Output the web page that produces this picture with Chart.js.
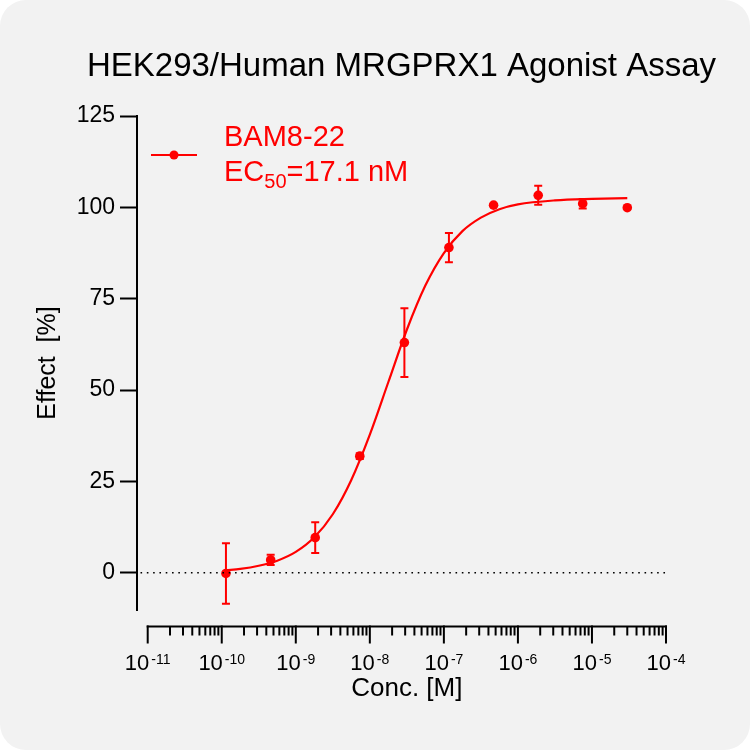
<!DOCTYPE html>
<html lang="en">

<head>
  <meta charset="UTF-8" />
  <title>HEK293/Human MRGPRX1 Agonist Assay</title>
  <script src="https://cdn.jsdelivr.net/npm/chart.js@4"></script>
  <style>
    body { margin: 0; background: #fff; }
    .card { width: 750px; height: 750px; background: #f2f2f2; border-radius: 26px; overflow: hidden; }
    canvas { display: block; }
  </style>
</head>

<body>
  <div class="card">
    <canvas id="doseChart" width="750" height="750"></canvas>
  </div>

  <script>
    // measured points (mean +/- SD)
    const conc = [1.14e-10, 4.58e-10, 1.83e-9, 7.32e-9, 2.93e-8, 1.17e-7, 4.69e-7, 1.88e-6, 7.5e-6, 3.0e-5];
    const effect = [-0.2, 3.5, 9.6, 31.9, 63.0, 89.0, 100.6, 103.3, 101.0, 99.9];
    const effectSd = [8.3, 1.4, 4.2, 0.8, 9.4, 4.0, 0, 2.6, 1.3, 0];

    // fitted curve
    const fitConc = [1.14e-10, 1.78e-10, 3.16e-10, 5.62e-10, 1e-9, 1.78e-9, 3.16e-9, 5.62e-9, 1e-8, 1.78e-8,
      3.16e-8, 5.62e-8, 1e-7, 1.78e-7, 3.16e-7, 5.62e-7, 1e-6, 3.16e-6, 1e-5, 3.0e-5];
    const fitEffect = [0.7, 1.05, 1.9, 3.3, 5.7, 9.7, 16.0, 25.4, 37.8, 52.2,
      66.5, 78.6, 87.5, 93.5, 97.2, 99.5, 100.8, 101.9, 102.3, 102.5];

    const zeroLineX = [8e-12, 1e-4];
    const yTicks = [0, 25, 50, 75, 100, 125];
    const xDecades = [-11, -10, -9, -8, -7, -6, -5, -4];

    const RED = '#ff0000';
    const FONT = "'Liberation Sans', Arial, sans-serif";

    const extras = {
      id: 'extras',
      afterDatasetsDraw(chart) {
        const { ctx, chartArea } = chart;
        const x = chart.scales.x;
        const y = chart.scales.y;
        ctx.save();

        // error bars
        ctx.strokeStyle = RED;
        ctx.lineWidth = 2;
        conc.forEach((c, i) => {
          if (!effectSd[i]) return;
          const px = x.getPixelForValue(c);
          const top = y.getPixelForValue(effect[i] + effectSd[i]);
          const bot = y.getPixelForValue(effect[i] - effectSd[i]);
          ctx.beginPath();
          ctx.moveTo(px, top); ctx.lineTo(px, bot);
          ctx.moveTo(px - 4, top); ctx.lineTo(px + 4, top);
          ctx.moveTo(px - 4, bot); ctx.lineTo(px + 4, bot);
          ctx.stroke();
        });

        // detached x axis with log ticks
        const axisY = chartArea.bottom + 16.5;
        const first = x.getPixelForValue(10 ** xDecades[0]);
        const last = x.getPixelForValue(10 ** xDecades[xDecades.length - 1]);
        ctx.strokeStyle = '#000';
        ctx.fillStyle = '#000';
        ctx.beginPath();
        ctx.moveTo(first - 1, axisY);
        ctx.lineTo(last + 1, axisY);
        ctx.stroke();

        xDecades.forEach((d, i) => {
          const px = x.getPixelForValue(10 ** d);
          ctx.beginPath();
          ctx.moveTo(px, axisY - 1);
          ctx.lineTo(px, axisY + 17);
          ctx.stroke();
          if (i < xDecades.length - 1) {
            for (let m = 2; m <= 9; m++) {
              const mx = x.getPixelForValue(m * 10 ** d);
              ctx.beginPath();
              ctx.moveTo(mx, axisY);
              ctx.lineTo(mx, axisY + 9);
              ctx.stroke();
            }
          }
          const exp = String(d);
          ctx.textAlign = 'left';
          ctx.textBaseline = 'alphabetic';
          ctx.font = `22px ${FONT}`;
          const wb = ctx.measureText('10').width;
          ctx.font = `14px ${FONT}`;
          const we = ctx.measureText(exp).width;
          const left = px - (wb + 2 + we) / 2;
          ctx.font = `22px ${FONT}`;
          ctx.fillText('10', left, axisY + 43);
          ctx.font = `14px ${FONT}`;
          ctx.fillText(exp, left + wb + 2, axisY + 37);
        });

        ctx.font = `26px ${FONT}`;
        ctx.textAlign = 'center';
        ctx.fillText('Conc. [M]', (first + last) / 2, axisY + 69);

        // title
        ctx.font = `33px ${FONT}`;
        ctx.fillText('HEK293/Human MRGPRX1 Agonist Assay', (chartArea.left + chartArea.right) / 2, 76);

        // legend
        ctx.strokeStyle = RED;
        ctx.fillStyle = RED;
        ctx.beginPath();
        ctx.moveTo(151, 155);
        ctx.lineTo(197, 155);
        ctx.stroke();
        ctx.beginPath();
        ctx.arc(174, 155, 4.5, 0, Math.PI * 2);
        ctx.fill();

        ctx.textAlign = 'left';
        ctx.font = `29px ${FONT}`;
        ctx.fillText('BAM8-22', 224, 146);
        ctx.fillText('EC', 224, 181);
        let tx = 224 + ctx.measureText('EC').width;
        ctx.font = `20px ${FONT}`;
        ctx.fillText('50', tx, 188);
        tx += ctx.measureText('50').width;
        ctx.font = `29px ${FONT}`;
        ctx.fillText('=17.1 nM', tx, 181);

        ctx.restore();
      }
    };

    const data = {
      datasets: [
        {
          label: 'zero',
          data: zeroLineX.map(v => ({ x: v, y: 0 })),
          showLine: true,
          borderColor: '#000',
          borderWidth: 1.6,
          borderDash: [1.6, 4.7],
          pointRadius: 0
        },
        {
          label: 'fit',
          data: fitConc.map((c, i) => ({ x: c, y: fitEffect[i] })),
          showLine: true,
          borderColor: RED,
          borderWidth: 2.2,
          cubicInterpolationMode: 'monotone',
          pointRadius: 0
        },
        {
          label: 'BAM8-22',
          data: conc.map((c, i) => ({ x: c, y: effect[i] })),
          showLine: false,
          pointRadius: 4.8,
          pointBackgroundColor: RED,
          pointBorderWidth: 0
        }
      ]
    };

    const config = {
      type: 'scatter',
      data: data,
      options: {
        responsive: false,
        animation: false,
        events: [],
        layout: { padding: { left: 0, right: 84, top: 116, bottom: 140 } },
        scales: {
          x: {
            type: 'logarithmic',
            min: 10 ** -11.1445,
            max: 1e-4,
            display: false
          },
          y: {
            type: 'linear',
            position: 'left',
            min: -10.2,
            max: 125,
            afterFit: (scale) => { scale.width = 137; },
            afterBuildTicks: (scale) => { scale.ticks = yTicks.map(v => ({ value: v })); },
            ticks: {
              color: '#000',
              padding: 5,
              font: { family: FONT, size: 23 }
            },
            grid: {
              drawOnChartArea: false,
              drawTicks: true,
              tickLength: 17,
              tickWidth: 2,
              tickColor: '#000',
              color: '#000'
            },
            border: { display: true, color: '#000', width: 2 },
            title: {
              display: true,
              text: 'Effect  [%]',
              color: '#000',
              font: { family: FONT, size: 25 },
              padding: { top: 33, bottom: 0 }
            }
          }
        },
        plugins: {
          legend: { display: false },
          tooltip: { enabled: false }
        }
      },
      plugins: [extras]
    };

    const doseChart = new Chart(document.getElementById('doseChart'), config);
  </script>
</body>

</html>
